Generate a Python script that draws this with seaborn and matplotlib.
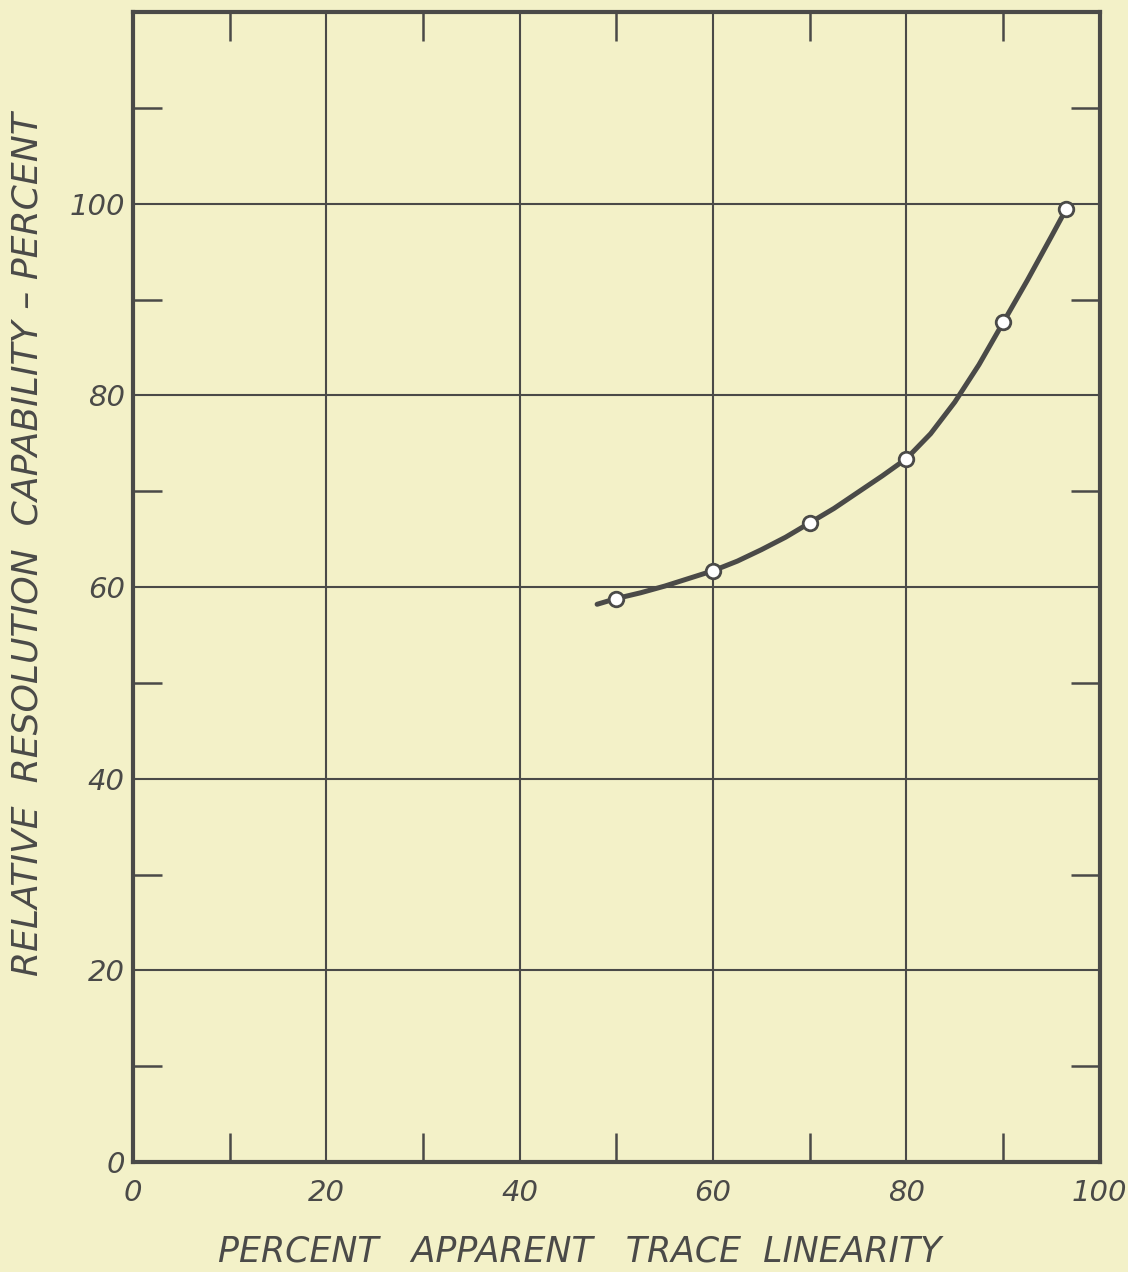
import matplotlib
matplotlib.use("Agg")
import matplotlib.pyplot as plt
import seaborn as sns

# measured points (circles)
point_x = [50, 60, 70, 80, 90, 96.5]
point_y = [58.8, 61.7, 66.7, 73.4, 87.7, 99.4]

# hand-drawn faired curve
curve_x = [48, 50, 52.5, 55, 57.5, 60, 62.5, 65, 67.5, 70, 72.5, 75, 77.5,
           80, 82.5, 85, 87.5, 90, 92.5, 95, 96.5]
curve_y = [58.2, 58.8, 59.4, 60.1, 60.9, 61.7, 62.7, 63.9, 65.2, 66.7, 68.2,
           69.9, 71.6, 73.4, 76.0, 79.3, 83.2, 87.6, 92.0, 96.6, 99.4]

x_ticks = [0, 20, 40, 60, 80, 100]
y_ticks = [0, 20, 40, 60, 80, 100]

paper = "#f3f1c8"
ink = "#4a4a48"

sns.set_theme(style="white")
plt.rcParams["font.family"] = ["DejaVu Sans"]

fig = plt.figure(figsize=(11.28, 12.72), dpi=100)
fig.patch.set_facecolor(paper)
ax = fig.add_axes([0.118, 0.0865, 0.857, 0.904])
ax.set_facecolor(paper)

sns.lineplot(x=curve_x, y=curve_y, ax=ax, color=ink, linewidth=3.6, sort=False,
             solid_capstyle="round", solid_joinstyle="round", zorder=3)
sns.scatterplot(x=point_x, y=point_y, ax=ax, s=110, color="white", edgecolor=ink,
                linewidth=2.0, zorder=4)

ax.set_xlim(0, 100)
ax.set_ylim(0, 120)
ax.set_xticks(x_ticks)
ax.set_yticks(y_ticks)
ax.set_xticks([10, 30, 50, 70, 90], minor=True)
ax.set_yticks([10, 30, 50, 70, 90, 110], minor=True)
ax.grid(True, which="major", color=ink, linewidth=1.5)
ax.tick_params(axis="x", which="major", length=0, pad=12)
ax.tick_params(axis="y", which="major", length=0, pad=6)
ax.tick_params(which="minor", direction="in", length=21, width=1.8, color=ink,
               top=True, right=True, bottom=True, left=True)

for spine in ax.spines.values():
    spine.set_color(ink)
    spine.set_linewidth(3)

ax.set_xticklabels([str(v) for v in x_ticks], fontsize=21, style="italic", color=ink)
ax.set_yticklabels([str(v) for v in y_ticks], fontsize=21, style="italic", color=ink)

ax.set_xlabel("PERCENT   APPARENT   TRACE  LINEARITY", fontsize=25, style="italic",
              color=ink)
ax.set_ylabel("RELATIVE  RESOLUTION  CAPABILITY \u2013 PERCENT", fontsize=26,
              style="italic", color=ink)
ax.xaxis.set_label_coords(0.462, -0.063)
ax.yaxis.set_label_coords(-0.092, 0.537)

fig.savefig("out.png", dpi=100, facecolor=paper)
